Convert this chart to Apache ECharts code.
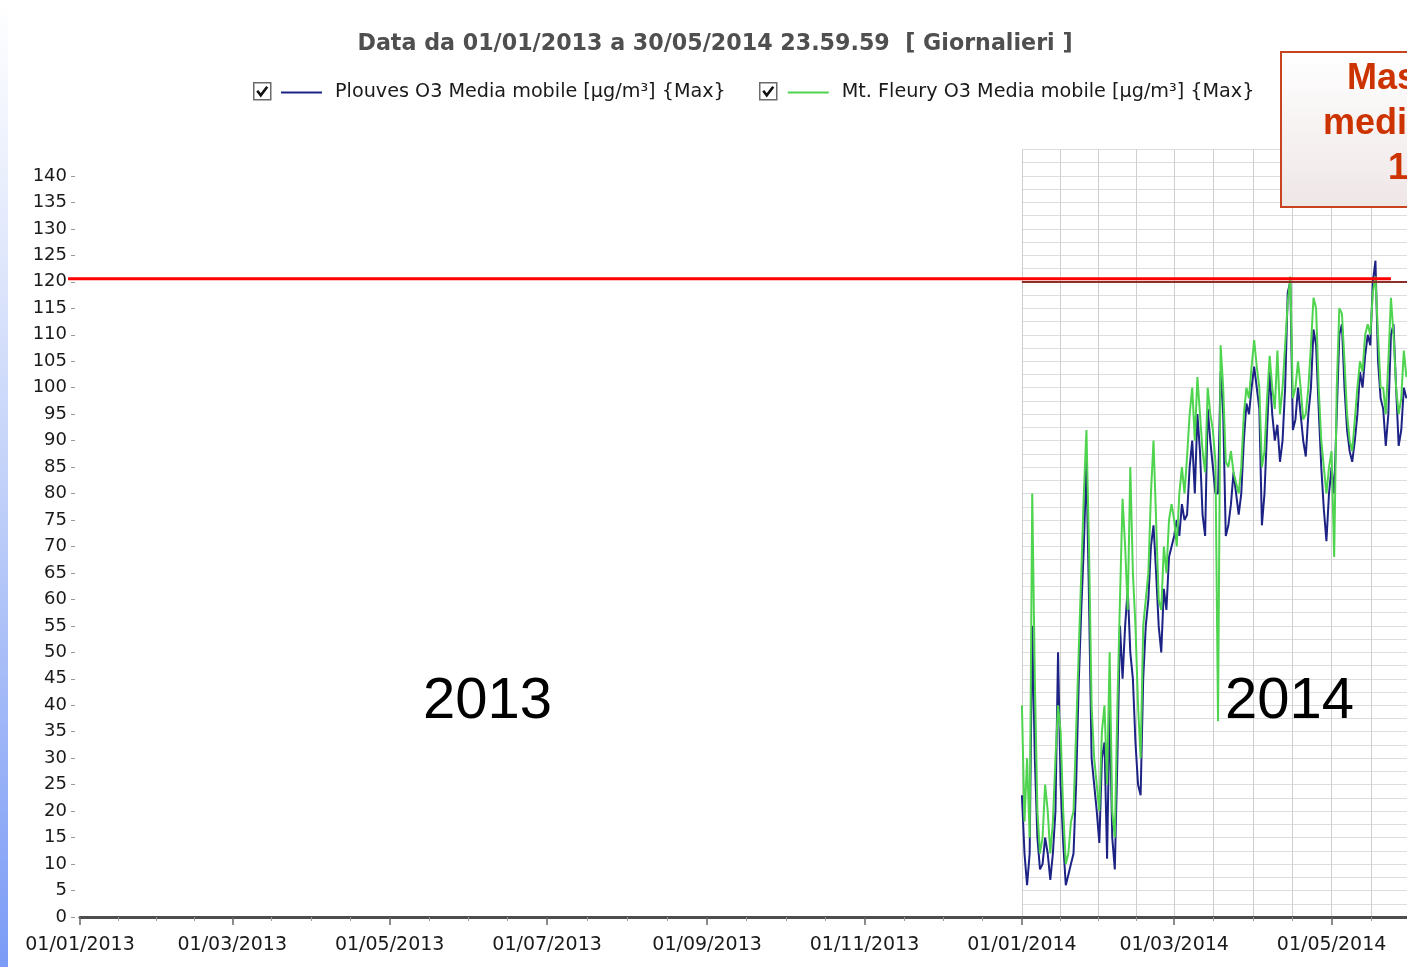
<!DOCTYPE html>
<html><head><meta charset="utf-8">
<script src="https://cdn.jsdelivr.net/npm/echarts@6/dist/echarts.min.js"></script>
<style>html,body{margin:0;padding:0;background:#fff;overflow:hidden}#c{width:1407px;height:967px}</style>
</head><body><div id="c"></div>
<script>
// ---- data ----
const titleText = 'Data da 01/01/2013 a 30/05/2014 23.59.59  [ Giornalieri ]';
const seriesNames = ['Plouves O3 Media mobile [µg/m³] {Max}', 'Mt. Fleury O3 Media mobile [µg/m³] {Max}'];
const firstDay = [2014, 0, 1];           // daily values start on 01/01/2014
const plouves = [23,12,6,12,55,30,15,9,10,15, 12,7,12,20,50,25,14,6,8,10,
  12,25,44,58,70,86,60,30,25,20, 14,30,33,11,40,15,9,30,55,45,
  55,62,50,45,33,25,23,45,55,60, 70,74,65,55,50,62,58,68,70,72,
  75,72,78,75,76,85,90,80,95,88, 76,72,96,90,85,80,80,103,95,72,
  74,78,84,80,76,80,90,97,95,100, 104,100,96,74,80,92,103,95,90,93,
  86,90,100,118,120,92,94,100,95,90, 87,95,100,111,108,96,85,77,71,80,
  85,80,95,110,112,100,92,88,86,90, 95,103,100,106,110,108,120,124,105,98,
  96,89,95,110,112,100,89,92,100,98];
const fleury = [40,18,30,15,80,45,20,12,15,25, 20,12,18,30,40,35,20,10,12,18,
  20,35,50,65,80,92,70,40,30,25, 20,35,40,25,50,20,15,40,60,79,
  70,58,85,65,55,40,30,55,60,65, 80,90,75,60,58,70,65,75,78,75,
  70,80,85,80,87,95,100,90,102,95, 88,84,100,95,92,86,37,108,100,86,
  85,88,84,82,80,85,95,100,98,104, 109,104,100,85,88,98,106,100,96,107,
  95,100,108,116,121,98,100,105,100,94, 95,100,108,117,115,100,90,85,80,85,
  88,68,100,115,114,105,95,90,88,94, 100,105,103,110,112,110,118,121,110,100,
  100,95,105,117,110,100,95,98,107,102];
const yTickValues = [0,5,10,15,20,25,30,35,40,45,50,55,60,65,70,75,80,85,90,95,100,105,110,115,120,125,130,135,140];
const axisStart = [2013, 0, 1], axisEnd = [2014, 6, 1], yMax = 145;
const limitValue = 120;        // chart's own limit line (2014 part)
const redLineValue = 120.6;    // hand-drawn red line
const redLineEnd = [2014, 4, 24];
const boxLines = ['Massima', 'media mobile', '120 µg/m³'];
const yearLabels = ['2013', '2014'];

// ---- build ----
const t = a => new Date(a[0], a[1], a[2]).getTime();
const DAY = 86400000;
const toPairs = vals => vals.map((v, i) => [new Date(firstDay[0], firstDay[1], firstDay[2] + i).getTime(), v]);
const tMin = t(axisStart), tMax = t(axisEnd), t2014 = t(firstDay);
const pad = n => (n < 10 ? '0' : '') + n;
const fmt = v => { const d = new Date(v); return d.getDate() === 1 ? pad(d.getDate()) + '/' + pad(d.getMonth() + 1) + '/' + d.getFullYear() : ''; };
const FONT = 'DejaVu Sans';

const chart = echarts.init(document.getElementById('c'), null, {renderer: 'canvas'});
const option = {
  animation: false,
  backgroundColor: '#ffffff',
  title: {text: titleText, left: 715, top: 33, padding: 0, textAlign: 'center',
    textStyle: {fontFamily: FONT, fontWeight: 'bold', fontSize: 22.2, color: '#4f4f4f'}},
  legend: {top: 83, left: 281, padding: 0, itemWidth: 41, itemHeight: 2, itemGap: 62, icon: 'rect', selectedMode: false,
    textStyle: {fontFamily: FONT, fontSize: 19.2, color: '#1a1a1a', padding: [0, 0, 0, 8]},
    data: seriesNames},
  grid: [
    {left: 80, top: 149.5, width: 1409, height: 767.5, outerBoundsMode: 'none', containLabel: false},
    {left: 1022, top: 149.5, width: 467, height: 767.5, outerBoundsMode: 'none', containLabel: false}
  ],
  xAxis: [
    {type: 'time', gridIndex: 0, min: tMin, max: tMax, splitNumber: 9, minInterval: 59 * DAY, maxInterval: 62 * DAY,
      axisLine: {show: true, lineStyle: {color: '#4d4d4d', width: 3}},
      axisTick: {show: true, length: 8, lineStyle: {color: '#666', width: 1.5}},
      minorTick: {show: true, splitNumber: 4, length: 4, lineStyle: {color: '#999', width: 1}},
      axisLabel: {formatter: fmt, fontFamily: FONT, fontSize: 19, color: '#1a1a1a', margin: 19, hideOverlap: false, showMinLabel: true, showMaxLabel: true},
      splitLine: {show: false}},
    {type: 'time', gridIndex: 1, min: t2014, max: tMax, splitNumber: 3, minInterval: 59 * DAY, maxInterval: 62 * DAY,
      axisLine: {show: false}, axisTick: {show: false}, axisLabel: {show: false},
      minorTick: {show: false, splitNumber: 4},
      splitLine: {show: true, lineStyle: {color: '#cfcfcf', width: 1}},
      minorSplitLine: {show: true, lineStyle: {color: '#cfcfcf', width: 1}}}
  ],
  yAxis: [
    {type: 'value', gridIndex: 0, min: 0, max: yMax, interval: 5, offset: 5,
      axisLine: {show: false},
      axisTick: {show: true, length: 4, lineStyle: {color: '#999'}, customValues: yTickValues},
      axisLabel: {customValues: yTickValues, fontFamily: FONT, fontSize: 18, color: '#1a1a1a', margin: 8},
      splitLine: {show: false}},
    {type: 'value', gridIndex: 1, min: 0, max: yMax, interval: 2.5,
      axisLine: {show: false}, axisTick: {show: false}, axisLabel: {show: false},
      splitLine: {show: true, lineStyle: {color: '#dedede', width: 1}}}
  ],
  series: [
    {name: seriesNames[0], type: 'line', xAxisIndex: 0, yAxisIndex: 0, data: toPairs(plouves), showSymbol: false, symbol: 'none',
      lineStyle: {color: '#1c2385', width: 2}, itemStyle: {color: '#1c2385'}, z: 3,
      markLine: {silent: true, symbol: 'none', label: {show: false}, lineStyle: {color: '#8a2f2a', width: 2, type: 'solid'},
        data: [[{coord: [t2014, limitValue]}, {coord: [tMax, limitValue]}]]}},
    {name: seriesNames[1], type: 'line', xAxisIndex: 0, yAxisIndex: 0, data: toPairs(fleury), showSymbol: false, symbol: 'none',
      lineStyle: {color: '#4fd44f', width: 2}, itemStyle: {color: '#4fd44f'}, z: 4}
  ]
};
chart.setOption(option);

// align the 2014 grid overlay with the main time scale
const px2014 = chart.convertToPixel({xAxisIndex: 0}, t2014);
const pxEnd = chart.convertToPixel({xAxisIndex: 0}, tMax);
const p1 = chart.convertToPixel({xAxisIndex: 0, yAxisIndex: 0}, [tMin, redLineValue]);
const p2 = chart.convertToPixel({xAxisIndex: 0, yAxisIndex: 0}, [t(redLineEnd), redLineValue]);

chart.setOption({
  grid: [{}, {left: px2014, width: pxEnd - px2014}],
  graphic: [
    {type: 'rect', left: 0, top: 0, z: 100, shape: {width: 8, height: 967},
      style: {fill: new echarts.graphic.LinearGradient(0, 0, 0, 1, [{offset: 0, color: '#ffffff'}, {offset: 0.15, color: '#eef2fd'}, {offset: 0.5, color: '#c2d1f9'}, {offset: 1, color: '#7b9bf6'}])}},
    // checkboxes of the legend
    {type: 'group', left: 253, top: 82, z: 100, children: [
      {type: 'rect', shape: {x: 0, y: 0, width: 17, height: 17}, style: {fill: '#fff', stroke: '#6b6b6b', lineWidth: 1.5}},
      {type: 'polyline', shape: {points: [[3.5, 8], [7, 12.5], [13.5, 4]]}, style: {stroke: '#111', lineWidth: 2.6, fill: null}}]},
    {type: 'group', left: 759, top: 82, z: 100, children: [
      {type: 'rect', shape: {x: 0, y: 0, width: 17, height: 17}, style: {fill: '#fff', stroke: '#6b6b6b', lineWidth: 1.5}},
      {type: 'polyline', shape: {points: [[3.5, 8], [7, 12.5], [13.5, 4]]}, style: {stroke: '#111', lineWidth: 2.6, fill: null}}]},
    // hand drawn red line
    {type: 'line', z: 90, shape: {x1: p1[0] - 12, y1: p1[1], x2: p2[0], y2: p2[1]}, style: {stroke: '#ff0000', lineWidth: 3}},
    // year labels
    {type: 'text', left: 423, top: 673, z: 90, style: {text: yearLabels[0], font: '58px "Liberation Sans"', fill: '#000'}},
    {type: 'text', left: 1225, top: 673, z: 90, style: {text: yearLabels[1], font: '58px "Liberation Sans"', fill: '#000'}},
    // annotation box
    {type: 'rect', z: 95, shape: {x: 1281, y: 52, width: 220, height: 155},
      style: {fill: new echarts.graphic.LinearGradient(0, 0, 0, 1, [{offset: 0, color: '#ffffff'}, {offset: 1, color: '#efe6e6'}]), stroke: '#c8441e', lineWidth: 2}},
    {type: 'text', z: 96, x: 1347, y: 97, style: {text: boxLines[0], font: 'bold 36px "Liberation Sans"', fill: '#cc3300', textVerticalAlign: 'bottom'}},
    {type: 'text', z: 96, x: 1323, y: 142, style: {text: boxLines[1], font: 'bold 36px "Liberation Sans"', fill: '#cc3300', textVerticalAlign: 'bottom'}},
    {type: 'text', z: 96, x: 1388, y: 187, style: {text: boxLines[2], font: 'bold 36px "Liberation Sans"', fill: '#cc3300', textVerticalAlign: 'bottom'}}
  ]
});
</script></body></html>
